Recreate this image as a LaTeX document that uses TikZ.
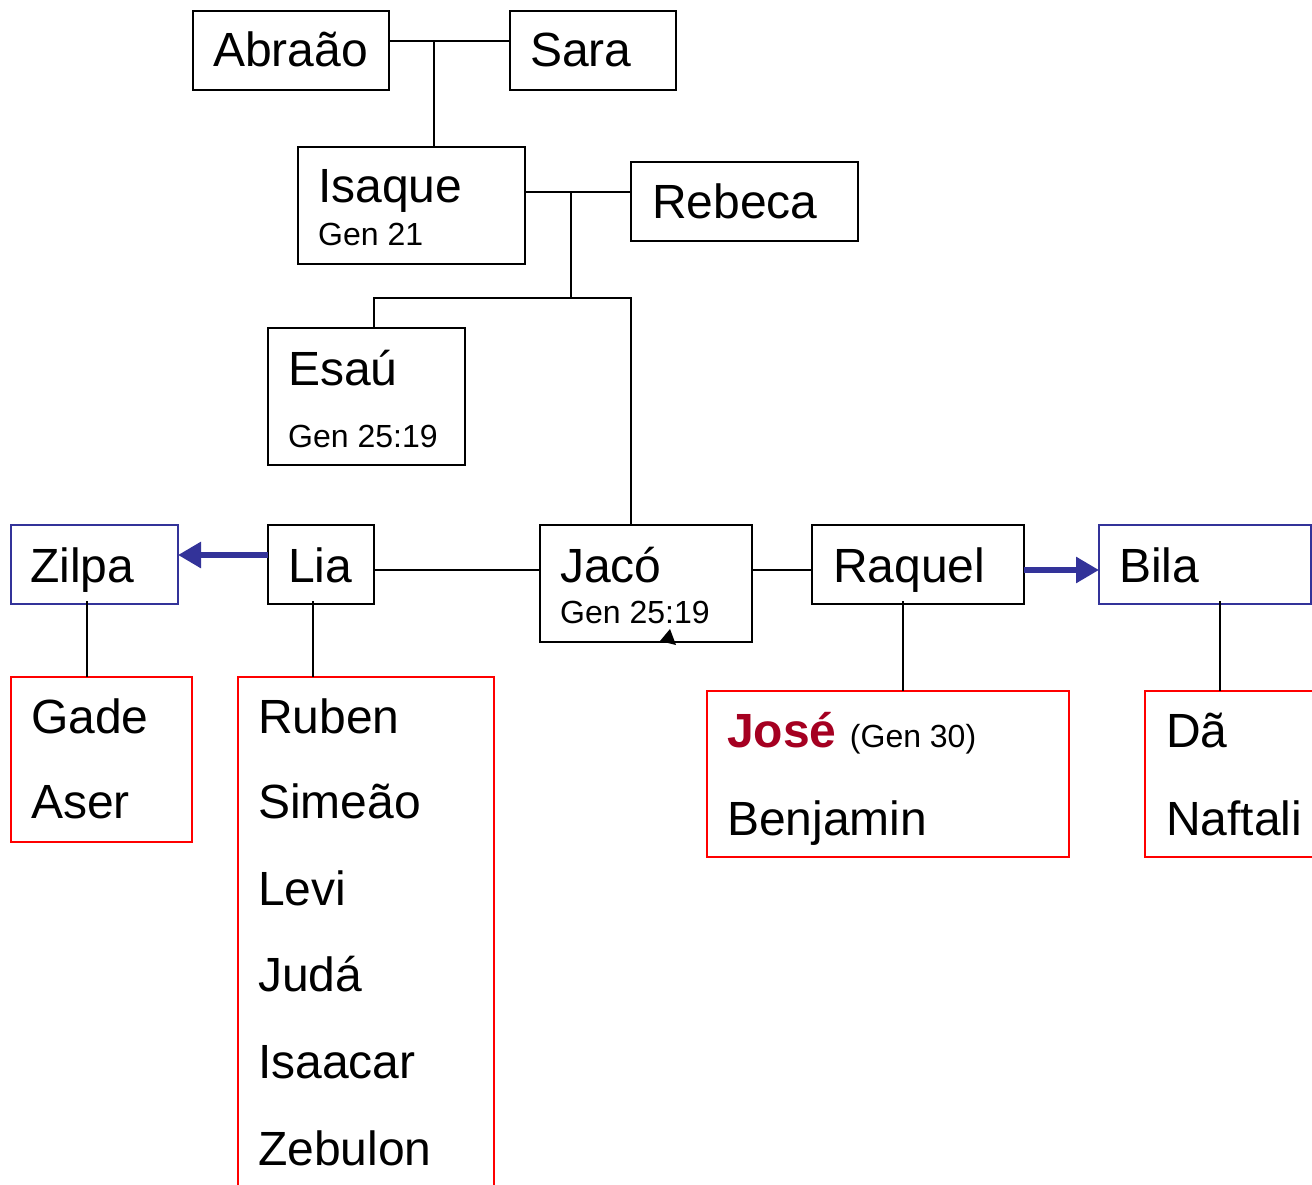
\documentclass[tikz,border=0pt]{standalone}
\usepackage{fontspec}
\setmainfont{Liberation Sans}
\usetikzlibrary{arrows.meta}
\definecolor{boxblue}{RGB}{51,51,153}
\definecolor{boxred}{RGB}{255,0,0}
\definecolor{josered}{RGB}{165,0,33}
\tikzset{
  pbox/.style={draw=black,line width=1.6pt,rectangle,inner sep=0pt,outer sep=0pt,anchor=north west},
  bluebox/.style={pbox,draw=boxblue},
  redbox/.style={pbox,draw=boxred},
  conn/.style={draw=black,line width=1.4pt},
  bigtxt/.style={anchor=base west,inner sep=0pt,font=\fontsize{48pt}{56pt}\selectfont},
  smalltxt/.style={anchor=base west,inner sep=0pt,font=\fontsize{32pt}{38pt}\selectfont},
  bluearrow/.style={draw=boxblue,line width=6pt,-{Triangle[length=23pt,width=25pt]}}
}
\begin{document}
\begin{tikzpicture}[x=1pt,y=1pt]
\useasboundingbox (0,0) rectangle (1312,-1185);
\fill[white] (0,0) rectangle (1312,-1185);
% boxes
\node[pbox,minimum width=196pt,minimum height=79pt] (abraao) at (193,-11) {};
\node[pbox,minimum width=166pt,minimum height=79pt] (sara) at (510,-11) {};
\node[pbox,minimum width=227pt,minimum height=117pt] (isaque) at (298,-147) {};
\node[pbox,minimum width=227pt,minimum height=79pt] (rebeca) at (631,-162) {};
\node[pbox,minimum width=197pt,minimum height=137pt] (esau) at (268,-328) {};
\node[pbox,minimum width=212pt,minimum height=117pt] (jaco) at (540,-525) {};
\node[bluebox,minimum width=167pt,minimum height=79pt] (zilpa) at (11,-525) {};
\node[pbox,minimum width=106pt,minimum height=79pt] (lia) at (268,-525) {};
\node[pbox,minimum width=212pt,minimum height=79pt] (raquel) at (812,-525) {};
\node[bluebox,minimum width=212pt,minimum height=79pt] (bila) at (1099,-525) {};
\node[redbox,minimum width=181pt,minimum height=165pt] (gade) at (11,-677) {};
\node[redbox,minimum width=256pt,minimum height=540pt] (liakids) at (238,-677) {};
\node[redbox,minimum width=362pt,minimum height=166pt] (jose) at (707,-691) {};
\node[redbox,minimum width=190pt,minimum height=166pt] (da) at (1145,-691) {};
% texts
\node[bigtxt] (tabraao) at (213,-67) {Abraão};
\node[bigtxt] (tsara) at (530,-67) {Sara};
\node[bigtxt] (tisaque) at (318,-203) {Isaque};
\node[smalltxt] (tisaqueg) at (318,-246) {Gen 21};
\node[bigtxt] (trebeca) at (652,-219) {Rebeca};
\node[bigtxt] (tesau) at (288,-385) {Esaú};
\node[smalltxt] (tesaug) at (288,-447) {Gen 25:19};
\node[bigtxt] (tjaco) at (560,-582) {Jacó};
\node[smalltxt] (tjacog) at (560,-623) {Gen 25:19};
\node[bigtxt] (tzilpa) at (30,-582) {Zilpa};
\node[bigtxt] (tlia) at (288,-582) {Lia};
\node[bigtxt] (traquel) at (833,-582) {Raquel};
\node[bigtxt] (tbila) at (1119,-582) {Bila};
\node[bigtxt] (tgade) at (31,-733) {Gade};
\node[bigtxt] (taser) at (31,-818) {Aser};
\node[bigtxt] (truben) at (258,-733) {Ruben};
\node[bigtxt] (tsimeao) at (258,-818) {Simeão};
\node[bigtxt] (tlevi) at (258,-905) {Levi};
\node[bigtxt] (tjuda) at (258,-991) {Judá};
\node[bigtxt] (tisaacar) at (258,-1078) {Isaacar};
\node[bigtxt] (tzebulon) at (258,-1165) {Zebulon};
\node[bigtxt] (tjose) at (727,-747) {\textcolor{josered}{\bfseries José} {\fontsize{32pt}{38pt}\selectfont (Gen 30)}};
\node[bigtxt] (tbenjamin) at (727,-835) {Benjamin};
\node[bigtxt] (tda) at (1166,-747) {Dã};
\node[bigtxt] (tnaftali) at (1166,-835) {Naftali};
% connector coordinates
\coordinate (m1) at (434,-41);
\coordinate (m2) at (571,-192);
\coordinate (ej) at (571,-298);
\coordinate (e1) at (374,-298);
\coordinate (j1) at (631,-298);
\coordinate (yl) at (0,-570);
\coordinate (ya) at (0,-555);
\coordinate (xz) at (87,-601);
\coordinate (xl) at (313,-601);
\coordinate (xr) at (903,-601);
\coordinate (xb) at (1220,-601);
% connectors
\draw[conn] (abraao.east |- m1) -- (sara.west |- m1);
\draw[conn] (m1) -- (m1 |- isaque.north);
\draw[conn] (isaque.east |- m2) -- (rebeca.west |- m2);
\draw[conn] (m2) -- (ej);
\draw[conn] (esau.north -| e1) -- (e1) -- (j1) -- (jaco.north -| j1);
\draw[conn] (lia.east |- yl) -- (jaco.west |- yl);
\draw[conn] (jaco.east |- yl) -- (raquel.west |- yl);
\draw[bluearrow] (lia.west |- ya) -- (zilpa.east |- ya);
\draw[bluearrow] (raquel.east |- yl) -- (bila.west |- yl);
\draw[conn] (xz) -- (gade.north -| xz);
\draw[conn] (xl) -- (liakids.north -| xl);
\draw[conn] (xr) -- (jose.north -| xr);
\draw[conn] (xb) -- (da.north -| xb);
% small arrowhead mark on Jacó box
\fill[black] (660,-641) -- (670,-629) -- (676,-645) -- cycle;
\end{tikzpicture}
\end{document}
